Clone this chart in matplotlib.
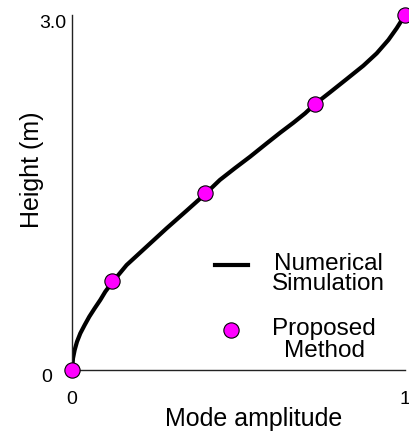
import matplotlib
matplotlib.use("Agg")
import matplotlib.pyplot as plt
from matplotlib.lines import Line2D
from matplotlib.legend_handler import HandlerLine2D
from matplotlib.transforms import ScaledTranslation, Affine2D

plt.rcParams["font.family"] = ["Liberation Sans", "DejaVu Sans"]

# curva da simulação numérica
sim_amp = [0.0, 0.003, 0.008, 0.015, 0.025, 0.038, 0.052, 0.068, 0.085, 0.100,
           0.121, 0.164, 0.224, 0.284, 0.344, 0.40, 0.444, 0.489, 0.535, 0.585,
           0.625, 0.665, 0.700, 0.730, 0.775, 0.825, 0.875, 0.915, 0.950, 0.975, 1.0]
sim_alt = [0.0, 0.099, 0.169, 0.239, 0.310, 0.380, 0.451, 0.521, 0.592, 0.662,
           0.741, 0.887, 1.042, 1.197, 1.346, 1.487, 1.606, 1.705, 1.803, 1.916,
           2.005, 2.090, 2.169, 2.248, 2.347, 2.459, 2.572, 2.676, 2.789, 2.888, 3.0]

# pontos do método proposto
met_amp = [0.0, 0.12, 0.40, 0.73, 1.0]
met_alt = [0.0, 0.75, 1.5, 2.25, 3.0]

rotulos = ["Numerical\nSimulation", "Proposed\nMethod"]


class HandlerDeslocado(HandlerLine2D):
    # sobe o símbolo da legenda alguns pixels (não fica centrado no texto)
    def __init__(self, dy, **kw):
        super().__init__(**kw)
        self.dy = dy

    def create_artists(self, legend, orig_handle, xdescent, ydescent,
                       width, height, fontsize, trans):
        trans = trans + Affine2D().translate(0, self.dy)
        return super().create_artists(legend, orig_handle, xdescent, ydescent,
                                      width, height, fontsize, trans)


fig = plt.figure(figsize=(4.10, 4.34), dpi=100)
ax = fig.add_axes([72 / 410, 64 / 434, 333 / 410, 355 / 434])

ax.plot(sim_amp, sim_alt, color="black", lw=3, solid_capstyle="round",
        solid_joinstyle="round", zorder=2)
ax.plot(met_amp, met_alt, "o", ms=11, mfc="#ff00ff", mec="black", mew=0.8,
        clip_on=False, zorder=3)

ax.set_xlim(0, 1)
ax.set_ylim(0, 3)
for s in ["top", "right"]:
    ax.spines[s].set_visible(False)
for s in ["left", "bottom"]:
    ax.spines[s].set_linewidth(1)
    ax.spines[s].set_color("#222222")

ax.set_xticks([0, 1])
ax.set_xticklabels(["0", "1"], fontsize=14)
ax.set_yticks([0, 3])
ax.set_yticklabels(["0", "3.0"], fontsize=14)
ax.tick_params(length=0)
ax.tick_params(axis="x", pad=15)
ax.yaxis.get_major_ticks()[0].set_pad(14)
ax.yaxis.get_major_ticks()[1].set_pad(4)
for lab in ax.get_yticklabels():
    lab.set_transform(lab.get_transform() + ScaledTranslation(0, -6 / 100, fig.dpi_scale_trans))

ax.set_xlabel("Mode amplitude", fontsize=18)
ax.xaxis.set_label_coords(0.544, -0.103)
ax.set_ylabel("Height (m)", fontsize=18)
ax.yaxis.set_label_coords(-0.085, 0.563)

h_linha = Line2D([0], [0], color="black", lw=3)
h_ponto = Line2D([0], [0], marker="o", ls="none", ms=11, mfc="#ff00ff",
                 mec="black", mew=0.8)
leg = ax.legend([h_linha, h_ponto], rotulos,
                handler_map={h_linha: HandlerDeslocado(9), h_ponto: HandlerDeslocado(10)},
                loc="center", bbox_to_anchor=(0.685, 0.176), frameon=False,
                fontsize=17.5, handlelength=1.36, handletextpad=1.0,
                labelspacing=0.95, borderpad=0)
for t, ls in zip(leg.get_texts(), [0.88, 1.0]):
    t.set_multialignment("center")
    t.set_linespacing(ls)

fig.savefig("out.png", dpi=100)
